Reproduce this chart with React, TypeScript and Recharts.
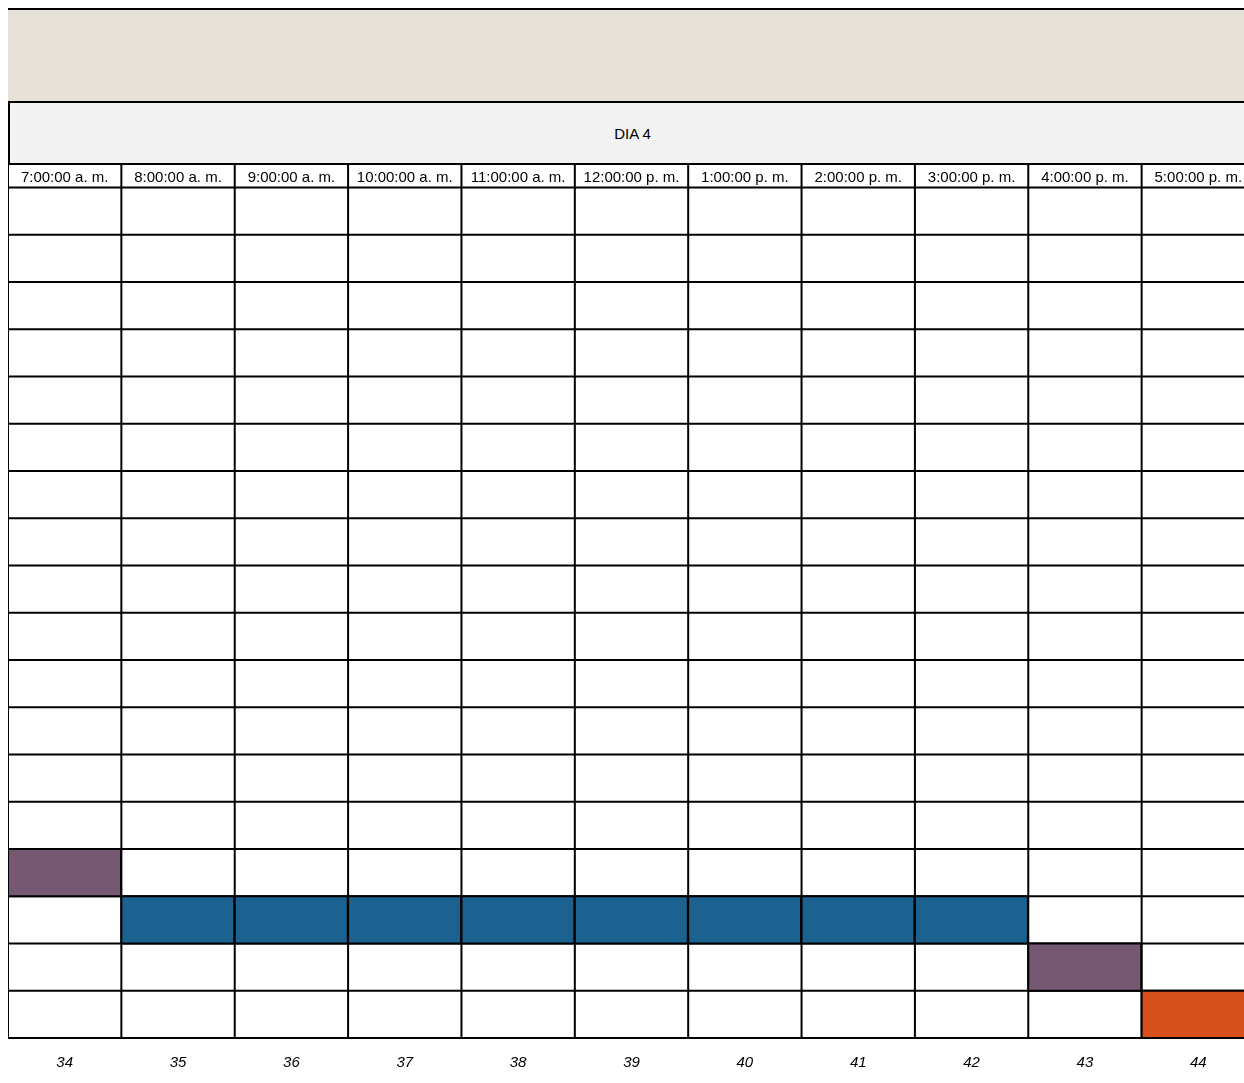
import React from 'react';
import { BarChart, Bar, XAxis, YAxis, CartesianGrid, Cell } from 'recharts';

// columns (week numbers at the bottom, hours at the top)
const weeks = ['34', '35', '36', '37', '38', '39', '40', '41', '42', '43', '44'];
const hours = [
  '7:00:00 a. m.', '8:00:00 a. m.', '9:00:00 a. m.', '10:00:00 a. m.', '11:00:00 a. m.',
  '12:00:00 p. m.', '1:00:00 p. m.', '2:00:00 p. m.', '3:00:00 p. m.', '4:00:00 p. m.', '5:00:00 p. m.',
];
// filled cell of each column: row where it starts / ends, and task kind
const rowFrom = [14, 15, 15, 15, 15, 15, 15, 15, 15, 16, 17];
const rowTo = [15, 16, 16, 16, 16, 16, 16, 16, 16, 17, 18];
const kind = ['a', 'b', 'b', 'b', 'b', 'b', 'b', 'b', 'b', 'a', 'c'];
const ROWS = 18;

const KIND_COLORS: Record<string, string> = { a: '#765873', b: '#1B6290', c: '#D64F1C' };
const FONT = '"Liberation Sans", Arial, sans-serif';

const data = weeks.map((w, i) => ({ week: w, hour: hours[i], span: [rowFrom[i], rowTo[i]], kind: kind[i] }));
const rowTicks = [-0.5, ...Array.from({ length: ROWS + 1 }, (_, i) => i)];

const HourTick = ({ x, y, payload }: any) => (
  <text x={x} y={y} dy={10} textAnchor="middle" fontSize={15} fontFamily={FONT} fill="#000">
    {payload.value}
  </text>
);

const App: React.FC = () => (
  <div style={{ position: 'fixed', left: 8, top: 8, right: 0, bottom: 0, overflow: 'hidden', fontFamily: FONT }}>
    <div style={{ height: 93, width: 1247, background: '#E5E0D8', borderTop: '2px solid #000', boxSizing: 'border-box' }} />
    <div
      style={{
        height: 63,
        background: '#F2F2F2',
        borderTop: '2px solid #000',
        borderLeft: '2px solid #000',
        boxSizing: 'border-box',
        width: 1247,
        display: 'flex',
        alignItems: 'center',
        justifyContent: 'center',
        fontSize: 15,
        color: '#000',
      }}
    >
      DIA 4
    </div>
    <div style={{ marginTop: -1, marginLeft: -1 }}>
      <BarChart
        width={1248}
        height={908}
        data={data}
        margin={{ top: 1, right: 0, left: 1, bottom: 0 }}
        barCategoryGap={0}
        barGap={0}
      >
        <CartesianGrid
          stroke="#000"
          strokeWidth={2}
          fill="#fff"
          verticalCoordinatesGenerator={({ offset }: any) =>
            Array.from({ length: weeks.length + 1 }, (_, i) => offset.left + (i * offset.width) / weeks.length)
          }
        />
        <XAxis
          xAxisId="week"
          dataKey="week"
          height={33}
          axisLine={false}
          tickLine={false}
          interval={0}
          tick={{ fontSize: 15, fontStyle: 'italic', fill: '#000', fontFamily: FONT, dy: 10 }}
        />
        <XAxis
          xAxisId="hour"
          dataKey="hour"
          orientation="top"
          mirror
          axisLine={false}
          tickLine={false}
          interval={0}
          tick={<HourTick />}
        />
        <YAxis type="number" domain={[-0.5, ROWS]} ticks={rowTicks} reversed hide allowDataOverflow />
        <Bar dataKey="span" xAxisId="week" stroke="#000" strokeWidth={2} isAnimationActive={false}>
          {data.map((d, i) => (
            <Cell key={i} fill={KIND_COLORS[d.kind]} />
          ))}
        </Bar>
      </BarChart>
    </div>
  </div>
);

export default App;
